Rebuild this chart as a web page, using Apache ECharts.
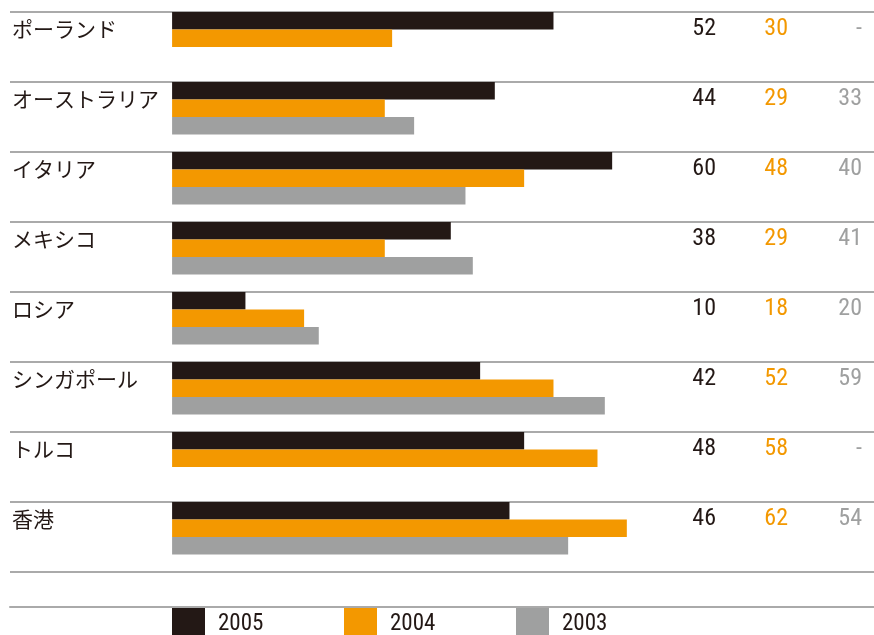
<!DOCTYPE html>
<html>
<head>
<meta charset="utf-8">
<style>
  html, body { margin: 0; padding: 0; background: #fff; }
  #chart { width: 874px; height: 635px; }
</style>
<script src="https://cdn.jsdelivr.net/npm/echarts@6/dist/echarts.min.js"></script>
</head>
<body>
<div id="chart"></div>
<script>
// Countries, top to bottom
const categories = ['ポーランド', 'オーストラリア', 'イタリア', 'メキシコ', 'ロシア', 'シンガポール', 'トルコ', '香港'];
const years = ['2005', '2004', '2003'];
const values2005 = [52, 44, 60, 38, 10, 42, 48, 46];
const values2004 = [30, 29, 48, 29, 18, 52, 58, 62];
const values2003 = [null, 33, 40, 41, 20, 59, null, 54];

const colors = ['#231815', '#f39800', '#9fa0a0'];
const jpFont = "'Noto Sans CJK JP', 'Noto Sans', sans-serif";
const numFont = "'Roboto Condensed', 'DejaVu Sans Condensed', sans-serif";

const fmt = v => (v == null ? '-' : String(v));

const chart = echarts.init(document.getElementById('chart'), null, { renderer: 'canvas' });

// one legend entry per year, spaced evenly under the bars
const legends = years.map((y, i) => ({
  data: [y],
  left: 172 + 172 * i,
  top: 608,
  padding: 0,
  itemWidth: 33,
  itemHeight: 32,
  icon: 'rect',
  selectedMode: false,
  textStyle: { fontFamily: numFont, fontSize: 23, color: '#231815', padding: [0, 0, 0, 8] }
}));

chart.setOption({
  animation: false,
  backgroundColor: '#ffffff',
  grid: { left: 10, right: 0, top: 12, bottom: 63, containLabel: false },
  legend: legends,
  xAxis: {
    type: 'value',
    min: -22.1,
    max: 95.7,
    position: 'bottom',
    offset: 35,
    axisLabel: { show: false },
    axisTick: { show: false },
    splitLine: { show: false },
    axisLine: { show: true, lineStyle: { color: '#aaaaaa', width: 2 } }
  },
  yAxis: {
    type: 'category',
    data: categories,
    inverse: true,
    axisLine: { show: false },
    axisTick: { show: false },
    splitLine: { show: true, lineStyle: { color: '#aaaaaa', width: 2 } },
    axisLabel: {
      inside: true,
      margin: 2,
      align: 'left',
      verticalAlign: 'middle',
      padding: [0, 0, 36, 0],
      formatter: (value, index) =>
        `{name|${value}}{a|${fmt(values2005[index])}}{b|${fmt(values2004[index])}}{c|${fmt(values2003[index])}}`,
      rich: {
        name: { width: 644, align: 'left', fontFamily: jpFont, fontSize: 21, color: '#231815' },
        a: { width: 60, align: 'right', fontFamily: numFont, fontSize: 24, color: colors[0] },
        b: { width: 72, align: 'right', fontFamily: numFont, fontSize: 24, color: colors[1] },
        c: { width: 74, align: 'right', fontFamily: numFont, fontSize: 24, color: colors[2] }
      }
    }
  },
  series: [
    { name: years[0], type: 'bar', data: values2005, barWidth: 17.5, barGap: '0%', itemStyle: { color: colors[0] } },
    { name: years[1], type: 'bar', data: values2004, barWidth: 17.5, barGap: '0%', itemStyle: { color: colors[1] } },
    { name: years[2], type: 'bar', data: values2003, barWidth: 17.5, barGap: '0%', itemStyle: { color: colors[2] } },
    // empty slot keeps each group of three bars at the top of its row
    { name: 'spacer', type: 'bar', data: categories.map(() => null), barWidth: 17.5, barGap: '0%', silent: true }
  ]
});
</script>
</body>
</html>
